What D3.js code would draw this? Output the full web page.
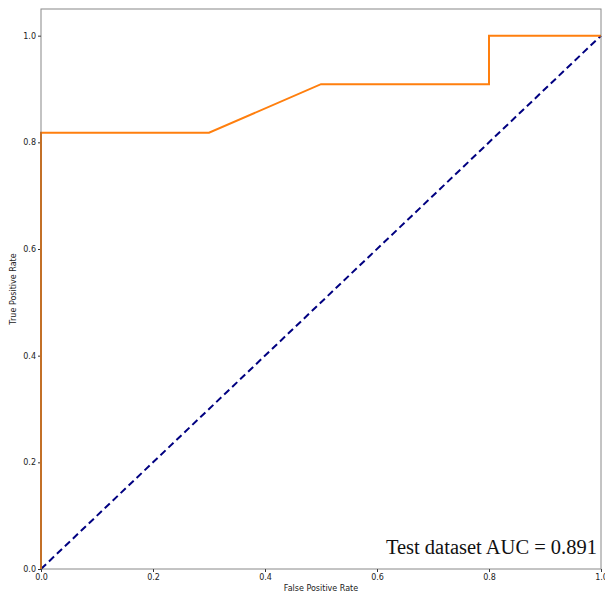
<!DOCTYPE html>
<html>
<head>
<meta charset="utf-8">
<script src="https://cdn.jsdelivr.net/npm/d3@7"></script>
<style>
  body { margin: 0; background: #fff; }
  svg { display: block; }
  .tick text { font-family: "DejaVu Sans", sans-serif; font-size: 8px; fill: #222; }
  .tick line { stroke: #333; }
  .lbl { font-family: "DejaVu Sans", sans-serif; font-size: 8px; fill: #222; }
</style>
</head>
<body>
<svg id="chart" width="605" height="595"></svg>
<script>
// ROC 曲线数据
const fpr = [0, 0, 0.3, 0.5, 0.8, 0.8, 1];
const tpr = [0, 0.818, 0.818, 0.909, 0.909, 1, 1];
const chanceX = [0, 1];
const chanceY = [0, 1];
const xTicks = [0, 0.2, 0.4, 0.6, 0.8, 1.0];
const yTicks = [0, 0.2, 0.4, 0.6, 0.8, 1.0];
const aucText = 'Test dataset AUC = 0.891';

const svg = d3.select('#chart');
const m = { l: 41, r: 4, t: 9, b: 26 };
const W = 605, H = 595;

const x = d3.scaleLinear().domain([0, 1]).range([m.l, W - m.r]);
const y = d3.scaleLinear().domain([0, 1.05]).range([H - m.b, m.t]);

// 坐标轴
svg.append('g')
    .attr('transform', `translate(0,${H - m.b})`)
    .call(d3.axisBottom(x).tickValues(xTicks).tickFormat(d3.format('.1f')).tickSize(3).tickPadding(2))
    .call(g => g.select('.domain').remove());

svg.append('g')
    .attr('transform', `translate(${m.l},0)`)
    .call(d3.axisLeft(y).tickValues(yTicks).tickFormat(d3.format('.1f')).tickSize(3).tickPadding(2))
    .call(g => g.select('.domain').remove());

// 对角参考线
svg.append('path')
    .datum(d3.zip(chanceX, chanceY))
    .attr('fill', 'none')
    .attr('stroke', 'navy')
    .attr('stroke-width', 2)
    .attr('stroke-dasharray', '7,4')
    .attr('d', d3.line().x(d => x(d[0])).y(d => y(d[1])));

// ROC 曲线
svg.append('path')
    .datum(d3.zip(fpr, tpr))
    .attr('fill', 'none')
    .attr('stroke', '#ff7f0e')
    .attr('stroke-width', 2)
    .attr('d', d3.line().x(d => x(d[0])).y(d => y(d[1])));

// 边框（画在曲线上面）
svg.append('rect')
    .attr('x', x(0)).attr('y', m.t)
    .attr('width', x(1) - x(0)).attr('height', y(0) - m.t)
    .attr('fill', 'none').attr('stroke', '#555').attr('stroke-opacity', 0.7).attr('stroke-width', 1);

// 轴标题
svg.append('text')
    .attr('class', 'lbl')
    .attr('x', (x(0) + x(1)) / 2)
    .attr('y', H - 4)
    .attr('text-anchor', 'middle')
    .text('False Positive Rate');

svg.append('text')
    .attr('class', 'lbl')
    .attr('transform', `translate(16,${(y(0) + y(1.05)) / 2}) rotate(-90)`)
    .attr('text-anchor', 'middle')
    .text('True Positive Rate');

// AUC 注释
svg.append('text')
    .attr('x', x(1) - 4)
    .attr('y', y(0) - 15)
    .attr('text-anchor', 'end')
    .attr('font-family', '"Liberation Serif", "DejaVu Serif", serif')
    .attr('font-size', 20.5)
    .attr('fill', '#111')
    .text(aucText);
</script>
</body>
</html>
